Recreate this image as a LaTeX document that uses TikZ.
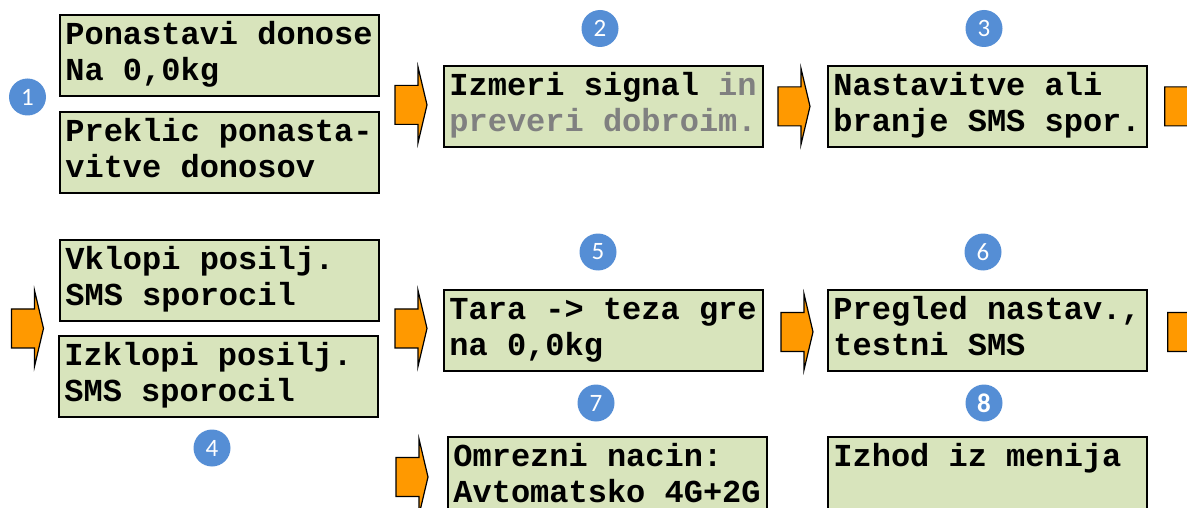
\documentclass[tikz,border=0pt]{standalone}
\usepackage{fontspec}
\usetikzlibrary{calc}
\newfontfamily\lcdfont{Liberation Mono}[WordSpace={1,0,0}]
\newfontfamily\numfont{Carlito}
\definecolor{boxfill}{HTML}{D8E4BC}
\definecolor{numblue}{HTML}{558ED5}
\definecolor{arrorange}{HTML}{FF9900}
\definecolor{greytxt}{HTML}{808080}
\tikzset{
  lcd/.style={draw=black, line width=1.8pt, fill=boxfill, anchor=north west,
    inner xsep=5.5pt, inner ysep=0pt, text width=308pt,
    text height=30pt, text depth=51pt,
    execute at begin node={\spaceskip=0pt\xspaceskip=0pt\parindent=0pt},
    font=\lcdfont\bfseries\fontsize{32}{36}\selectfont},
  numc/.style={circle, fill=numblue, minimum size=37pt, inner sep=0pt,
    text=white, font=\numfont\fontsize{25}{25}\selectfont},
  arrowst/.style={draw=black, line width=1.2pt, fill=arrorange, line join=miter},
  barrow/.pic={\draw[arrowst] (0,0) -- (-9,-38) -- (-9,-19.5) -- (-32,-19.5)
     -- (-32,19.5) -- (-9,19.5) -- (-9,38) -- cycle;}
}
\begin{document}
\begin{tikzpicture}[x=1pt,y=-1pt]
\useasboundingbox (0,0) rectangle (1187,508);
% boxes
\node[lcd] (b1a) at (59,14) {Ponastavi donose\\Na 0,0kg};
\node[lcd] (b1b) at (59,111) {Preklic ponasta-\\vitve donosov};
\node[lcd] (b2) at (443,65) {Izmeri signal \textcolor{greytxt}{in}\\\textcolor{greytxt}{preveri dobroim.}};
\node[lcd] (b3) at (827,65) {Nastavitve ali\\branje SMS spor.};
\node[lcd] (b4a) at (59,239) {Vklopi posilj.\\SMS sporocil};
\node[lcd] (b4b) at (58,335) {Izklopi posilj.\\SMS sporocil};
\node[lcd] (b5) at (443,289) {Tara -> teza gre\\na 0,0kg};
\node[lcd] (b6) at (827,289) {Pregled nastav.,\\testni SMS};
\node[lcd] (b7) at (447,436) {Omrezni nacin:\\Avtomatsko 4G+2G};
\node[lcd] (b8) at (827,436) {Izhod iz menija};
% number circles
\node[numc] (n1) at (27.5,97) {1};
\node[numc] (n2) at (600,28.5) {2};
\node[numc] (n3) at (984,28.5) {3};
\node[numc] (n4) at (212,448) {4};
\node[numc] (n5) at (598,252) {5};
\node[numc] (n6) at (983,252) {6};
\node[numc] (n7) at (596,403) {7};
\node[numc, font=\numfont\bfseries\fontsize{27}{27}\selectfont] (n8) at (984,403) {8};
% block arrows
\pic at ($(b2.west)+(-16,-1.5)$) {barrow};
\pic at ($(b3.west)+(-17,0)$) {barrow};
\pic at ($(b3.east)+(49,0)$) {barrow};
\pic at ($(b4a.south west)!0.5!(b4b.north west)+(-15,0)$) {barrow};
\pic at ($(b5.west)+(-16,-2)$) {barrow};
\pic at ($(b6.west)+(-14,1.5)$) {barrow};
\pic at ($(b6.east)+(52,1.5)$) {barrow};
\pic at ($(b7.north west)+(-19,41)$) {barrow};
\end{tikzpicture}
\end{document}
